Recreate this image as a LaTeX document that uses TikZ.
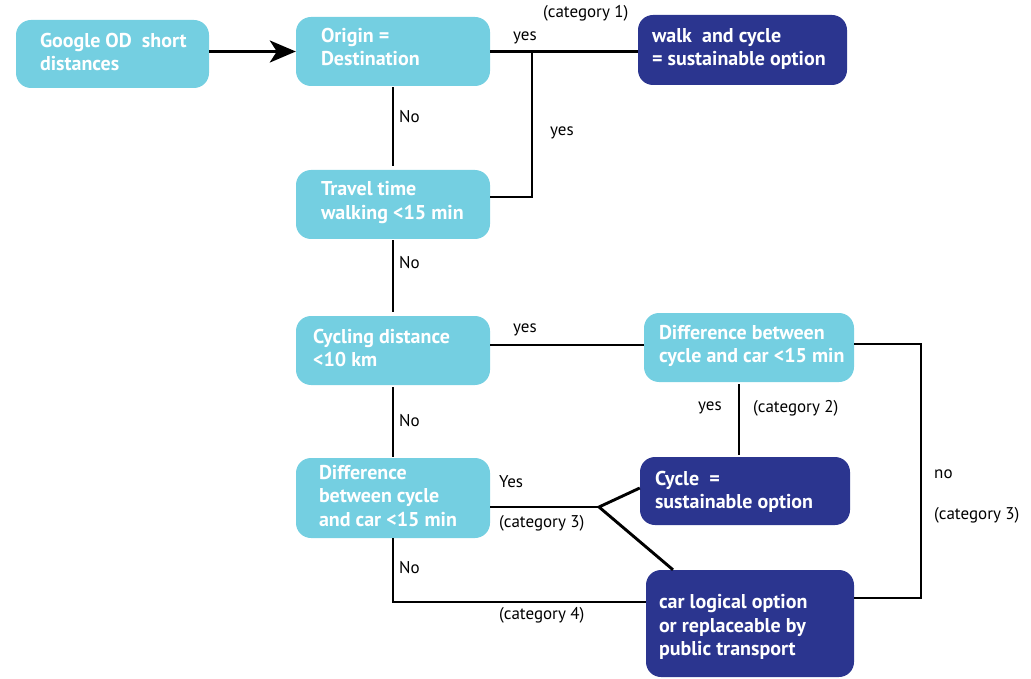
\documentclass[tikz,border=0pt]{standalone}
\usepackage{fontspec}
\setmainfont{PT Sans}
\usetikzlibrary{arrows.meta,calc}
\definecolor{boxcyan}{HTML}{74CFE1}
\definecolor{boxnavy}{HTML}{2B358F}
\tikzset{
  flowbox/.style={rounded corners=15pt, inner sep=0pt, draw=none},
  qbox/.style={flowbox, fill=boxcyan},
  abox/.style={flowbox, fill=boxnavy},
  boxtext/.style={anchor=west, inner sep=0pt, align=left, text=white,
    font=\fontsize{20}{23.5}\selectfont\bfseries},
  lbl/.style={anchor=west, inner sep=0pt, font=\fontsize{17}{20}\selectfont},
  link/.style={line width=2.9pt, line join=miter},
}
\begin{document}
\begin{tikzpicture}[x=1pt, y=-1pt]
\useasboundingbox (0,0) rectangle (1031,679);

% question boxes (left column)
\node[qbox, minimum width=193pt, minimum height=68pt] (google) at (112.5,54) {};
\node[boxtext] (googleT) at ($(google.west)+(24,-2)$) {Google OD\ \ short\\distances};
\node[qbox, minimum width=194pt, minimum height=69pt] (origin) at (393,51.5) {};
\node[boxtext] (originT) at ($(origin.west)+(25,-4.5)$) {Origin =\\Destination};
\node[qbox, minimum width=194pt, minimum height=69pt] (travel) at (393,204.5) {};
\node[boxtext] (travelT) at ($(travel.west)+(25,-2)$) {Travel time\\walking <15 min};
\node[qbox, minimum width=194pt, minimum height=69pt] (cycling) at (393,350.5) {};
\node[boxtext] (cyclingT) at ($(cycling.west)+(17,-2.5)$) {Cycling distance\\<10 km};
\node[qbox, minimum width=194pt, minimum height=80pt] (diffL) at (393,498) {};
\node[boxtext] (diffLT) at ($(diffL.west)+(23,-2)$) {Difference\\between cycle\\and car <15 min};

% right column
\node[abox, minimum width=209pt, minimum height=70pt] (walk) at (742.5,50) {};
\node[boxtext] (walkT) at ($(walk.west)+(14,-1)$) {walk\ \ and cycle\\= sustainable option};
\node[qbox, minimum width=210pt, minimum height=69pt] (diffR) at (749,347.5) {};
\node[boxtext] (diffRT) at ($(diffR.west)+(15,-1.5)$) {Difference between\\cycle and car <15 min};
\node[abox, minimum width=210pt, minimum height=68pt] (cycle) at (745,491) {};
\node[boxtext] (cycleT) at ($(cycle.west)+(15,1)$) {Cycle\ \ =\\sustainable option};
\node[abox, minimum width=208pt, minimum height=107pt] (car) at (750,623.5) {};
\node[boxtext] (carT) at ($(car.west)+(13,3.5)$) {car logical option\\or replaceable by\\public transport};

% helper points for the connectors
\coordinate (j1) at (532,51.5);
\coordinate (j2) at (532,197);
\coordinate (ry) at (600,345);
\coordinate (rc) at (921,344);
\coordinate (rb) at (921,598);
\coordinate (dx) at (739,360);
\coordinate (fk) at (599,507);
\coordinate (fc) at (620,488);
\coordinate (fd) at (673,560);
\coordinate (bl) at (393,602);

% connectors
\draw[link, -{Stealth[length=26pt, width=22pt, inset=7pt]}] (google.east |- origin.west) -- (origin.west);
\draw[link] (origin.east) -- (origin.east -| walk.west);
\draw[link] (travel.east |- j2) -- (j2) -- (j1);
\draw[link, shorten <=1pt, shorten >=4pt] (origin) -- (travel);
\draw[link, shorten <=1pt, shorten >=4pt] (travel) -- (cycling);
\draw[link, shorten <=2pt, shorten >=1pt] (cycling) -- (diffL);
\draw[link] (cycling.east |- ry) -- (diffR.west |- ry);
\draw[link] (diffR.east |- rc) -- (rc) -- (rb) -- (car.east |- rb);
\draw[link, shorten <=2pt, shorten >=2pt] (diffR.south -| dx) -- (cycle.north -| dx);
\draw[link] (diffL.east |- fk) -- (fk);
\draw[link] (cycle.west |- fc) -- (fk) -- (car.north -| fd);
\draw[link] (diffL.south) -- (bl) -- (car.west |- bl);

% branch labels
\node[lbl] (l1) at (543,13) {(category 1)};
\node[lbl] (l2) at (513,38) {yes};
\node[lbl] (l3) at (550,133) {yes};
\node[lbl] (l4) at (399,117) {No};
\node[lbl] (l5) at (399,263) {No};
\node[lbl] (l6) at (399,421) {No};
\node[lbl] (l7) at (399,568) {No};
\node[lbl] (l8) at (513,330) {yes};
\node[lbl] (l9) at (698,408) {yes};
\node[lbl] (l10) at (753,408) {(category 2)};
\node[lbl] (l11) at (934,474) {no};
\node[lbl] (l12) at (934,515) {(category 3)};
\node[lbl] (l13) at (499,482) {Yes};
\node[lbl] (l14) at (499,523) {(category 3)};
\node[lbl] (l15) at (499,615) {(category 4)};
\end{tikzpicture}
\end{document}
